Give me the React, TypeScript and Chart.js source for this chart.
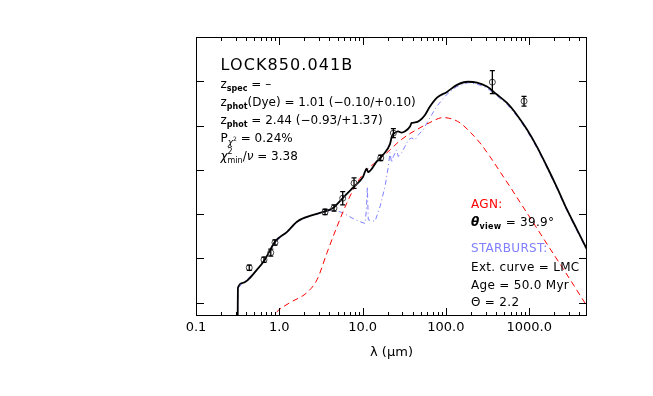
import React, { useEffect, useRef } from "react";
import { Chart, registerables } from "chart.js";

Chart.register(...registerables);

// ---------- data (log10 flux units on y, wavelength in micron on x) ----------
const totalLambda = [0.316, 0.319, 0.366, 0.54, 0.67, 0.89, 1.24, 1.63, 2.15, 3.35, 4.42, 5.82, 7.67, 10.1, 11.2, 11.6, 14.8, 17.6, 21.3, 22.5, 24.5, 26.6, 29.4, 32.3, 37.1, 38.8, 42.6, 48.9, 56.1, 64.4, 78.2, 103, 136, 184, 236, 311, 410, 541, 713, 941, 1241, 1637, 2158, 2846, 3750, 4940];
const totalFlux = [-0.45, 0.34, 0.45, 0.745, 0.97, 1.38, 1.6, 1.83, 1.94, 2.05, 2.14, 2.37, 2.6, 2.84, 3.03, 2.95, 3.19, 3.34, 3.58, 3.76, 3.84, 3.87, 3.84, 3.87, 3.98, 4.06, 4.07, 4.12, 4.24, 4.43, 4.63, 4.76, 4.92, 4.99, 4.97, 4.88, 4.7, 4.51, 4.24, 3.91, 3.52, 3.07, 2.6, 2.1, 1.65, 1.2];

const agnLambda = [0.78, 0.94, 1.34, 2.15, 2.84, 3.74, 4.93, 6.5, 8.57, 11.3, 16.2, 21.3, 28.1, 37.1, 48.9, 64.4, 92, 118, 148, 194, 256, 338, 446, 588, 775, 1172, 1778, 2692, 4074, 4940];
const agnFlux = [-0.4, -0.2, 0.0, 0.23, 0.52, 1.13, 1.72, 2.26, 2.71, 3.0, 3.25, 3.45, 3.66, 3.82, 3.95, 4.07, 4.18, 4.15, 4.06, 3.86, 3.61, 3.3, 2.96, 2.62, 2.27, 1.75, 1.22, 0.7, 0.17, -0.08];

const sbLambda = [0.316, 0.319, 0.366, 0.54, 0.67, 0.89, 1.24, 1.63, 2.15, 3.35, 4.42, 5.82, 7.67, 9.31, 10.7, 11.1, 11.4, 11.7, 14.1, 16.2, 18.6, 20.4, 21.3, 22.3, 23.4, 25.6, 26.8, 29.4, 32.3, 35.4, 38.8, 42.6, 46.7, 53.6, 64.4, 77.4, 102, 135, 186, 234, 311, 410, 541, 713, 941, 1241, 1637, 2158, 2846, 3750, 4940];
const sbFlux = [-0.45, 0.33, 0.44, 0.735, 0.96, 1.37, 1.59, 1.82, 1.93, 2.04, 2.1, 2.03, 1.9, 1.83, 1.79, 2.1, 2.62, 1.87, 1.84, 2.17, 2.63, 3.08, 3.39, 3.16, 3.3, 3.45, 3.3, 3.39, 3.53, 3.68, 3.72, 3.68, 3.79, 3.91, 4.18, 4.43, 4.7, 4.88, 4.97, 4.94, 4.85, 4.67, 4.48, 4.21, 3.88, 3.49, 3.04, 2.57, 2.07, 1.62, 1.17];

const obsLambda = [0.436, 0.655, 0.79, 0.887, 3.54, 4.54, 5.77, 7.89, 16.5, 23.4, 361, 867];
const obsFlux = [0.79, 0.97, 1.13, 1.36, 2.05, 2.14, 2.36, 2.7, 3.27, 3.83, 4.98, 4.55];
const obsErr = [0.06, 0.06, 0.08, 0.06, 0.06, 0.07, 0.15, 0.12, 0.06, 0.1, 0.26, 0.11];

const xMajorTicks = [0.1, 1, 10, 100, 1000];
const xTickLabels = ["0.1", "1.0", "10.0", "100.0", "1000.0"];
const yTicks = [0, 1, 2, 3, 4, 5, 6];
const xMin = 0.1;
const xMax = 4940;
const yMin = -0.3;
const yMax = 6.0;

const FONT = '"DejaVu Sans"';
const RED = "#ff0000";
const BLUE = "#7f7fff";

type Part = { t: string; size: number; dy?: number; style?: string; sup?: string; sub?: string };

function drawParts(ctx: CanvasRenderingContext2D, x: number, y: number, parts: Part[], color: string, spacing: number) {
  ctx.save();
  ctx.fillStyle = color;
  ctx.textBaseline = "alphabetic";
  ctx.textAlign = "left";
  (ctx as any).letterSpacing = spacing + "px";
  let cx = x;
  for (const p of parts) {
    if (p.sup !== undefined || p.sub !== undefined) {
      ctx.font = `${p.size}px ${FONT}`;
      let w = 0;
      if (p.sup) {
        ctx.fillText(p.sup, cx, y - 6);
        w = Math.max(w, ctx.measureText(p.sup).width);
      }
      if (p.sub) {
        ctx.fillText(p.sub, cx, y + 3);
        w = Math.max(w, ctx.measureText(p.sub).width);
      }
      cx += w;
      continue;
    }
    ctx.font = `${p.style ?? ""} ${p.size}px ${FONT}`;
    ctx.fillText(p.t, cx, y + (p.dy ?? 0));
    cx += ctx.measureText(p.t).width;
  }
  ctx.restore();
  return cx;
}

const framePlugin = {
  id: "frameTicks",
  afterDraw(chart: any) {
    const ctx: CanvasRenderingContext2D = chart.ctx;
    const { left, right, top, bottom } = chart.chartArea;
    const xs = chart.scales.x;
    const ys = chart.scales.y;
    ctx.save();
    ctx.strokeStyle = "#000";
    ctx.lineWidth = 1;
    ctx.strokeRect(left + 0.5, top + 0.5, right - left - 1, bottom - top - 1);
    ctx.beginPath();
    for (let d = -1; d <= 3; d++) {
      for (let m = 1; m <= 9; m++) {
        const v = m * Math.pow(10, d);
        if (v < xMin || v > xMax) continue;
        const px = Math.round(xs.getPixelForValue(v)) + 0.5;
        const len = m === 1 ? 8 : 4;
        ctx.moveTo(px, bottom);
        ctx.lineTo(px, bottom - len);
        ctx.moveTo(px, top);
        ctx.lineTo(px, top + len);
      }
    }
    for (const v of yTicks) {
      const py = Math.round(ys.getPixelForValue(v)) + 0.5;
      ctx.moveTo(left, py);
      ctx.lineTo(left + 8, py);
      ctx.moveTo(right, py);
      ctx.lineTo(right - 8, py);
    }
    ctx.stroke();
    ctx.restore();

    // annotations
    const lx = left + 24.5;
    const s = 0;
    drawParts(ctx, lx, top + 33, [{ t: "LOCK850.041B", size: 16 }], "#000", 1.1);
    const sub = (t: string, style = "") => ({ t, size: 8, dy: 3, style });
    drawParts(ctx, lx, top + 51.3, [{ t: "z", size: 12 }, sub("spec", "bold"), { t: " = –", size: 12 }], "#000", s);
    drawParts(ctx, lx, top + 69.1, [{ t: "z", size: 12 }, sub("phot", "bold"), { t: "(Dye) = 1.01 (−0.10/+0.10)", size: 12 }], "#000", s);
    drawParts(ctx, lx, top + 86.9, [{ t: "z", size: 12 }, sub("phot", "bold"), { t: " = 2.44 (−0.93/+1.37)", size: 12 }], "#000", s);
    drawParts(ctx, lx, top + 104.7, [{ t: "P", size: 12 }, { t: "χ", size: 9, dy: 3, style: "italic" }, { t: "2", size: 6, dy: -1 }, { t: " = 0.24%", size: 12 }], "#000", s);
    drawParts(ctx, lx, top + 122.5, [{ t: "χ", size: 12, style: "italic" }, { t: "", size: 8, sup: "2", sub: "min" }, { t: "/", size: 12 }, { t: "ν", size: 12, style: "italic" }, { t: " = 3.38", size: 12 }], "#000", s);

    const rx = left + 275;
    const rs = 0.3;
    drawParts(ctx, rx, top + 171, [{ t: "AGN:", size: 12 }], RED, rs);
    drawParts(ctx, rx, top + 189, [{ t: "θ", size: 12, style: "italic bold" }, sub("view", "bold"), { t: " = 39.9°", size: 12 }], "#000", rs);
    drawParts(ctx, rx, top + 215, [{ t: "STARBURST:", size: 12 }], BLUE, rs);
    drawParts(ctx, rx, top + 233.5, [{ t: "Ext. curve = LMC", size: 12 }], "#000", rs);
    drawParts(ctx, rx, top + 251.5, [{ t: "Age = 50.0 Myr", size: 12 }], "#000", rs);
    drawParts(ctx, rx, top + 269, [{ t: "Θ = 2.2", size: 12 }], "#000", rs);
  },
};

const errorBarPlugin = {
  id: "errorBars",
  afterDatasetsDraw(chart: any) {
    const ctx: CanvasRenderingContext2D = chart.ctx;
    const xs = chart.scales.x;
    const ys = chart.scales.y;
    ctx.save();
    ctx.strokeStyle = "#000";
    ctx.lineWidth = 1.3;
    ctx.beginPath();
    obsLambda.forEach((l, i) => {
      const px = xs.getPixelForValue(l);
      const y1 = ys.getPixelForValue(obsFlux[i] + obsErr[i]);
      const y2 = ys.getPixelForValue(obsFlux[i] - obsErr[i]);
      ctx.moveTo(px, y1);
      ctx.lineTo(px, y2);
      ctx.moveTo(px - 2.5, y1);
      ctx.lineTo(px + 2.5, y1);
      ctx.moveTo(px - 2.5, y2);
      ctx.lineTo(px + 2.5, y2);
    });
    ctx.stroke();
    ctx.restore();
  },
};

const toXY = (xs: number[], ys: number[]) => xs.map((x, i) => ({ x, y: ys[i] }));

export default function App() {
  const ref = useRef<HTMLCanvasElement | null>(null);
  useEffect(() => {
    if (!ref.current) return;
    Chart.defaults.font.family = FONT;
    const chart = new Chart(ref.current, {
      type: "scatter",
      data: {
        datasets: [
          {
            data: toXY(obsLambda, obsFlux),
            showLine: false,
            pointRadius: 3,
            pointBorderWidth: 1,
            pointBorderColor: "#444",
            pointBackgroundColor: "rgba(0,0,0,0)",
          },
          {
            data: toXY(totalLambda, totalFlux),
            showLine: true,
            borderColor: "#000",
            borderWidth: 1.8,
            pointRadius: 0,
            cubicInterpolationMode: "monotone",
          },
          {
            data: toXY(agnLambda, agnFlux),
            showLine: true,
            borderColor: RED,
            borderWidth: 1,
            borderDash: [6, 4],
            pointRadius: 0,
            cubicInterpolationMode: "monotone",
          },
          {
            data: toXY(sbLambda, sbFlux),
            showLine: true,
            borderColor: BLUE,
            borderWidth: 1,
            borderDash: [5, 3, 1, 3],
            pointRadius: 0,
            tension: 0,
          },
        ] as any,
      },
      options: {
        responsive: false,
        animation: false,
        devicePixelRatio: 1,
        layout: { padding: { left: 196, right: 66, top: 37, bottom: 0 } },
        plugins: { legend: { display: false }, tooltip: { enabled: false } },
        scales: {
          x: {
            type: "logarithmic",
            min: xMin,
            max: xMax,
            grid: { display: false, drawTicks: false },
            border: { display: false },
            afterBuildTicks: (scale: any) => {
              scale.ticks = xMajorTicks.map((v) => ({ value: v }));
            },
            afterFit: (scale: any) => {
              scale.height = 80;
            },
            ticks: {
              autoSkip: false,
              maxRotation: 0,
              padding: 4,
              color: "#000",
              font: { size: 13, family: FONT },
              callback: (v: any) => {
                const i = xMajorTicks.findIndex((t) => Math.abs(t - Number(v)) / t < 1e-6);
                return i >= 0 ? xTickLabels[i] : "";
              },
            },
            title: {
              display: true,
              text: "λ (μm)",
              color: "#000",
              font: { size: 13, family: FONT },
              padding: { top: 4, bottom: 36 },
            },
          },
          y: {
            type: "linear",
            min: yMin,
            max: yMax,
            display: false,
          },
        },
      },
      plugins: [framePlugin, errorBarPlugin],
    } as any);
    return () => chart.destroy();
  }, []);
  return (
    <div style={{ position: "fixed", left: 0, top: 0, width: 653, height: 396, background: "#fff" }}>
      <canvas ref={ref} width={653} height={396} />
    </div>
  );
}
